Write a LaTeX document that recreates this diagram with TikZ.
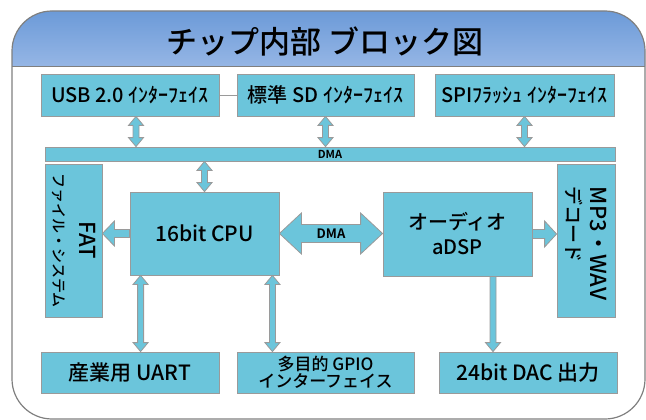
\documentclass[tikz,border=0pt]{standalone}
\usepackage{fontspec}
\setmainfont{Noto Sans CJK JP}[UprightFont={* Medium}, BoldFont={* Bold}]
\usetikzlibrary{calc}
\definecolor{mCyan}{HTML}{6BC5DB}
\definecolor{mEdge}{HTML}{9A9A9A}
\definecolor{mFrame}{HTML}{7F7F7F}
\definecolor{mHeadTop}{HTML}{6C9AD8}
\definecolor{mHeadBot}{HTML}{95B6E5}

% block arrows: from, to, shaft half width, head half width, head length
\newcommand{\dblarrow}[5]{%
  \coordinate (ba1) at ($(#1)!#5!(#2)$);
  \coordinate (ba2) at ($(#2)!#5!(#1)$);
  \draw[blockarr] (#1) -- ($(ba1)!#4!90:(#2)$) -- ($(ba1)!#3!90:(#2)$)
    -- ($(ba2)!#3!-90:(#1)$) -- ($(ba2)!#4!-90:(#1)$) -- (#2)
    -- ($(ba2)!#4!90:(#1)$) -- ($(ba2)!#3!90:(#1)$)
    -- ($(ba1)!#3!-90:(#2)$) -- ($(ba1)!#4!-90:(#2)$) -- cycle;}
\newcommand{\sglarrow}[5]{%
  \coordinate (ba2) at ($(#2)!#5!(#1)$);
  \draw[blockarr] ($(#1)!#3!90:(#2)$) -- ($(ba2)!#3!-90:(#1)$)
    -- ($(ba2)!#4!-90:(#1)$) -- (#2) -- ($(ba2)!#4!90:(#1)$)
    -- ($(ba2)!#3!90:(#1)$) -- ($(#1)!#3!-90:(#2)$) -- cycle;}

\begin{document}
\begin{tikzpicture}[x=1pt, y=-1pt,
  box/.style={draw=mEdge, fill=mCyan, line width=0.8pt, inner sep=0pt,
              minimum height=42pt, font=\fontsize{20}{22}\selectfont},
  vtext/.style={rotate=-90, align=center, inner sep=0pt},
  blockarr/.style={draw=mEdge, fill=mCyan, line width=0.8pt},
]
  \useasboundingbox (0,0) rectangle (646,420);
  % frame and heading
  \begin{scope}
    \clip[rounded corners=40pt] (12,11) rectangle (645,419);
    \shade[top color=mHeadTop, bottom color=mHeadBot] (12,11) rectangle (645,66);
  \end{scope}
  \draw[mFrame, line width=1.2pt, rounded corners=40pt] (12,11) rectangle (645,419);
  \draw[mFrame, line width=0.8pt] (12,66) -- (645,66);
  \node[font=\fontsize{31}{34}\selectfont] (title) at (325,41) {チップ内部 ブロック図};

  % interfaces on the bus
  \node[box, minimum width=178pt] (usb) at (130,95) {USB 2.0 ｲﾝﾀｰﾌｪｲｽ};
  \node[box, minimum width=177pt] (sd)  at (325.5,95) {標準 SD ｲﾝﾀｰﾌｪｲｽ};
  \node[box, minimum width=179pt] (spi) at (524.5,95) {SPIﾌﾗｯｼｭ ｲﾝﾀｰﾌｪｲｽ};
  \draw[mEdge, line width=0.8pt] (usb) -- (sd);
  \node[box, minimum width=570pt, minimum height=14pt,
        font=\fontsize{11}{12}\selectfont\bfseries] (dma) at (330,154) {DMA};

  \node[box, minimum width=57pt, minimum height=153pt] (fat) at (73.5,240.5) {};
  \node[vtext, font=\fontsize{15}{26}\selectfont] (fattext) at (fat.center)
    {{\fontsize{22}{26}\selectfont FAT}\\ファイル・システム};
  \node[box, minimum width=149pt, minimum height=83pt,
        font=\fontsize{21}{24}\selectfont] (cpu) at (204.5,233.5) {16bit CPU};
  \node[box, minimum width=149pt, minimum height=84pt, align=center,
        font=\fontsize{20}{25}\selectfont] (adsp) at (457.5,234) {オーディオ\\aDSP};
  \node[box, minimum width=58pt, minimum height=153pt] (mp3) at (586,240.5) {};
  \node[vtext, align=left, font=\fontsize{19}{24}\selectfont] (mp3text) at ($(mp3.center)+(0,3)$)
    {{\fontsize{22}{24}\selectfont MP3・WAV}\\デコード};

  \node[box, minimum width=178pt, minimum height=41pt,
        font=\fontsize{21}{24}\selectfont] (uart) at (130,372.5) {産業用 UART};
  \node[box, minimum width=177pt, minimum height=41pt, align=center,
        font=\fontsize{17}{17}\selectfont] (gpio) at (325.5,372.5) {多目的 GPIO\\インターフェイス};
  \node[box, minimum width=178pt, minimum height=41pt,
        font=\fontsize{21}{24}\selectfont] (dac) at (528,372.5) {24bit DAC 出力};

  % bus arrows
  \coordinate (usbdn) at ($(usb.south)+(6,0)$);
  \dblarrow{usbdn}{usbdn |- dma.north}{3pt}{7.5pt}{9pt}
  \dblarrow{sd.south}{sd.south |- dma.north}{3pt}{7.5pt}{9pt}
  \dblarrow{spi.south}{spi.south |- dma.north}{3pt}{7.5pt}{9pt}
  \dblarrow{cpu.north}{cpu.north |- dma.south}{3pt}{7.5pt}{9pt}

  % core arrows
  \sglarrow{cpu.west}{cpu.west -| fat.east}{4pt}{12.5pt}{12pt}
  \dblarrow{cpu.east}{cpu.east -| adsp.west}{9pt}{20.5pt}{22pt}
  \node[font=\fontsize{13}{14}\selectfont\bfseries] (dmalbl)
    at ($(cpu.east)!0.5!(adsp.west)$) {DMA};
  \sglarrow{adsp.east}{adsp.east -| mp3.west}{4.5pt}{13pt}{12pt}

  % peripherals
  \coordinate (uartup) at ($(cpu.south west)+(11,0)$);
  \coordinate (gpioup) at ($(cpu.south east)+(-7,0)$);
  \coordinate (dacup) at ($(adsp.south)+(35.5,0)$);
  \dblarrow{uartup}{uartup |- uart.north}{3pt}{7.5pt}{9pt}
  \dblarrow{gpioup}{gpioup |- gpio.north}{3pt}{7.5pt}{9pt}
  \sglarrow{dacup}{dacup |- dac.north}{3pt}{7.5pt}{9pt}
\end{tikzpicture}
\end{document}
